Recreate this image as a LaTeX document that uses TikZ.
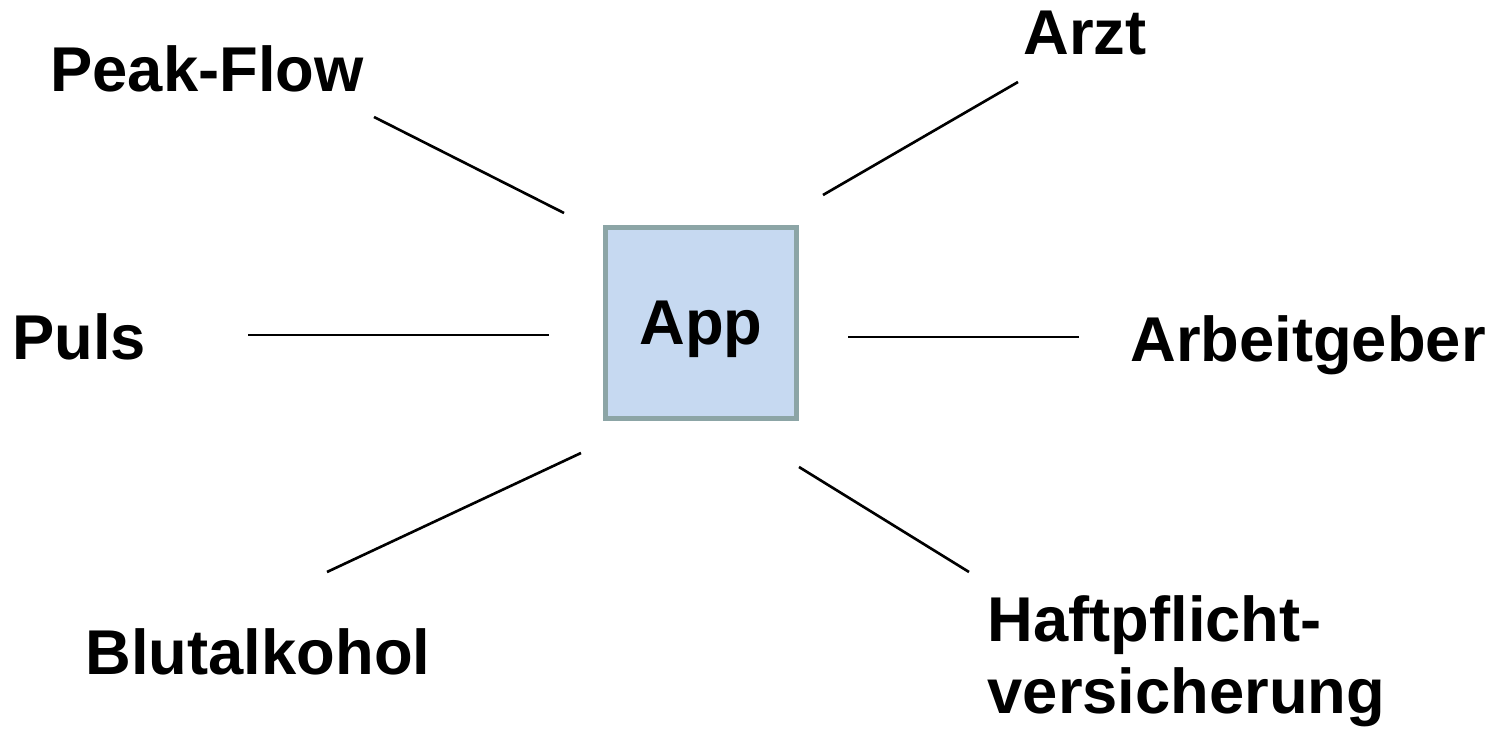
\documentclass[tikz,border=0pt]{standalone}
\usepackage{fontspec}
\setmainfont{Liberation Sans}
\usepackage{tikz}
\usetikzlibrary{calc}

\definecolor{appfill}{RGB}{198,217,241}
\definecolor{appdraw}{RGB}{140,165,166}

\begin{document}
\begin{tikzpicture}[x=0.01cm, y=-0.01cm,
  label/.style={font=\fontsize{18pt}{20.2pt}\selectfont\bfseries, anchor=base, inner sep=0pt},
  appbox/.style={draw=appdraw, fill=appfill, line width=1.4pt, minimum size=1.91cm,
    font=\fontsize{18pt}{20.2pt}\selectfont\bfseries, text depth=0pt},
  link/.style={color=black, line width=0.75pt}]
  \useasboundingbox (0,0) rectangle (1497,734);

  \node[appbox] (app) at (701, 323) {App};

  \node[label] (peak) at (207, 92) {Peak-Flow};
  \node[label] (arzt) at (1085, 55) {Arzt};
  \node[label] (puls) at (79, 360) {Puls};
  \node[label] (arbeit) at (1308, 362) {Arbeitgeber};
  \node[label] (blut) at (258, 675) {Blutalkohol};
  \node[label, anchor=base west, align=left] (haft) at (987, 713) {Haftpflicht-\\versicherung};

  % line ends
  \coordinate (peak1) at (374, 117);  \coordinate (peak2) at (564, 213);
  \coordinate (arzt1) at (1018, 82);  \coordinate (arzt2) at (823, 195);
  \coordinate (puls1) at (248, 335);  \coordinate (puls2) at (549, 335);
  \coordinate (arbeit1) at (1079, 337); \coordinate (arbeit2) at (848, 337);
  \coordinate (blut1) at (327, 572);  \coordinate (blut2) at (581, 453);
  \coordinate (haft1) at (969, 572);  \coordinate (haft2) at (799, 467);

  \foreach \a in {peak,arzt,puls,arbeit,blut,haft}
  {
  \draw[link] (\a1) -- (\a2);
  }

\end{tikzpicture}
\end{document}
